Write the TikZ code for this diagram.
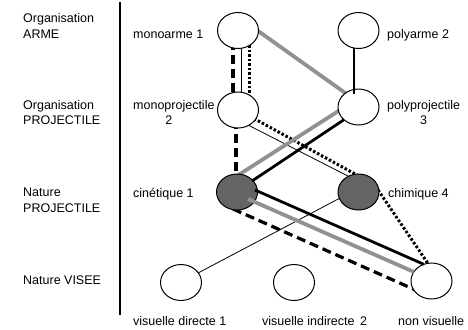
\documentclass[tikz,border=0pt]{standalone}
\usepackage{fontspec}
\setmainfont{Liberation Sans}
\usetikzlibrary{calc,backgrounds,shapes.geometric}
\definecolor{edgegray}{RGB}{145,145,145}
\definecolor{nodefill}{RGB}{100,100,100}
\begin{document}
\begin{tikzpicture}[x=1bp,y=-1bp,
  bubble/.style={ellipse, draw, line width=1bp, minimum width=41bp, minimum height=36bp, inner sep=0pt, fill=white},
  darkbubble/.style={bubble, fill=nodefill},
  lbl/.style={inner sep=0pt, anchor=base west, font=\fontsize{12.5bp}{15.5bp}\selectfont},
  dashline/.style={line width=3.2bp, dash pattern=on 9bp off 5bp},
  dotline/.style={line width=3bp, dash pattern=on 2.5bp off 2bp},
  thinline/.style={line width=0.8bp},
  grayline/.style={line width=3.8bp, draw=edgegray},
  blackline/.style={line width=2.8bp},
  sepline/.style={line width=1.4bp},
]
\useasboundingbox (0,0) rectangle (468,329);

% separator
\coordinate (septop) at (120,2);
\coordinate (sepbot) at (120,315);
\draw[sepline] (septop) -- (sepbot);

% row titles (base anchor = last line's baseline)
\node[lbl, align=left] (t1) at (23,38) {Organisation\\ARME};
\node[lbl, align=left] (t2) at (23,124.5) {Organisation\\PROJECTILE};
\node[lbl, align=left] (t3) at (23,212) {Nature\\PROJECTILE};
\node[lbl] (t4) at (23,284) {Nature VISEE};

% ellipses
\node[bubble] (n1) at (238,30.5) {};
\node[bubble] (n2) at (358.5,30.5) {};
\node[bubble] (p2) at (238,110) {};
\node[bubble] (p3) at (358.5,107) {};
\node[darkbubble] (c1) at (237,192) {};
\node[darkbubble] (c4) at (358.5,192) {};
\node[bubble] (v1) at (181,282.5) {};
\node[bubble] (v2) at (294,282.5) {};
\node[bubble] (v3) at (431.5,281) {};

% labels
\node[lbl] (ln1) at (133,38) {monoarme 1};
\node[lbl] (ln2) at (387,38) {polyarme 2};
\node[lbl, align=center] (lp2) at (133,124.5) {monoprojectile\\2\hspace*{10bp}};
\node[lbl, align=center] (lp3) at (387,124.5) {polyprojectile\\3};
\node[lbl] (lc1) at (133,197) {cinétique 1};
\node[lbl] (lc4) at (388,197) {chimique 4};
\node[lbl] (lv1) at (133,325) {visuelle directe 1};
\node[lbl] (lv2) at (262,325) {visuelle indirecte\hspace{5.5bp}2};
\node[lbl] (lv3) at (398,325) {non visuelle};

% connectors behind the ellipses
\begin{pgfonlayer}{background}
  % dashed path
  \draw[dashline] ($(n1)+(-5,10)$) -- ($(p2)+(-5,-10)$);
  \draw[dashline] ($(p2)+(-2,10)$) -- ($(c1)+(-1,-10)$);
  \draw[dashline] ($(c1)+(-4,17)$) -- ($(v3)+(-11.5,11)$);
  % thin lines
  \draw[thinline] ($(n1)+(3,10)$) -- ($(p2)+(3,-10)$);
  \draw[thinline] ($(p2)+(10,15)$) -- ($(c4)+(-5.5,-13.4)$);
  \draw[thinline] ($(c4)+(-13.5,3.4)$) -- ($(v1)+(14,-7.9)$);
  % dotted path
  \draw[dotline] ($(n1)+(11,10)$) -- ($(p2)+(11,-10)$);
  \draw[dotline] ($(p2)+(12,6.3)$) -- ($(c4)+(1.5,-15.3)$);
  \draw[dotline] ($(c4)+(14.5,-9.4)$) -- ($(v3)+(-2.5,-16)$);
  % gray path
  \draw[grayline] ($(n1)+(12,-5.3)$) -- ($(p3)+(-6.5,-9.2)$);
  \draw[grayline] ($(p3)+(-13.5,-0.2)$) -- ($(c1)+(-2,-14.8)$);
\end{pgfonlayer}

% connectors drawn over the ellipses
\draw[grayline] ($(c1)+(11,7)$) -- ($(v3)+(-17.6,-9.1)$);
\draw[blackline] ($(n2)+(-4.5,17.5)$) -- ($(p3)+(-4.5,-13)$);
\draw[blackline] ($(p3)+(-14.5,12.7)$) -- ($(c1)+(15,-11)$);
\draw[blackline] ($(c1)+(18,-2)$) -- ($(v3)+(-7.7,-16.7)$);
\end{tikzpicture}
\end{document}
